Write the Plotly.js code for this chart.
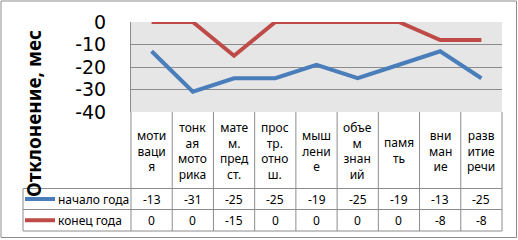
<!DOCTYPE html>
<html>
<head>
<meta charset="utf-8">
<script src="https://cdn.plot.ly/plotly-3.0.1.min.js"></script>
<style>
  html, body { margin: 0; padding: 0; background: #ffffff; }
  #chart { width: 518px; height: 240px; }
</style>
</head>
<body>
<div id="chart"></div>
<script>
// ---- data ----
var categories = ["мотивация", "тонкая моторика", "матем. предст.", "простр. отнош.", "мышление", "объем знаний", "память", "внимание", "развитие речи"];
var categoryLabels = ["моти<br>ваци<br>я", "тонк<br>ая<br>мото<br>рика", "мате<br>м.<br>пред<br>ст.", "прос<br>тр.<br>отно<br>ш.", "мыш<br>лени<br>е", "объе<br>м<br>знан<br>ий", "памя<br>ть", "вни<br>ман<br>ие", "разв<br>итие<br>речи"];
var seriesNames = ["начало года", "конец года"];
var startYear = [-13, -31, -25, -25, -19, -25, -19, -13, -25];
var endYear = [0, 0, -15, 0, 0, 0, 0, -8, -8];
var yTickVals = [-40, -30, -20, -10, 0];
var yTickText = ["-40", "-30", "-20", "-10", "0"];
var yTitle = "Отклонение, мес";

// ---- layout geometry (pixels) ----
var W = 518, H = 240;
var PL = 131, PR = 502, PT = 22, PB = 112;
var colors = ["#4a7ebb", "#be4b48"];
var gridColor = "#8c8c8c";
var FONT = "Noto Sans, Open Sans, sans-serif";

function px(x) { return (x - PL) / (PR - PL); }
function py(y) { return (PB - y) / (PB - PT); }

var catTop = PB, row1Top = 188.5, row2Top = 209.5, tableBottom = 231, legendLeft = 23;
var rowMid = [(row1Top + row2Top) / 2, (row2Top + tableBottom) / 2];
var n = categories.length;
var seriesValues = [startYear, endYear];

var traces = seriesValues.map(function (vals, s) {
  return {
    x: categories, y: vals, type: "scatter", mode: "lines", name: seriesNames[s],
    line: { color: colors[s], width: 4 }, hoverinfo: "skip"
  };
});

var shapes = [];
var annotations = [];

function line(x0, y0, x1, y1, color, width, xref) {
  shapes.push({ type: "line", xref: xref || "paper", yref: "paper", x0: x0, y0: y0, x1: x1, y1: y1,
    line: { color: color, width: width } });
}

// vertical column separators
for (var i = 0; i <= n; i++) {
  line(i / n, py(catTop), i / n, py(tableBottom), gridColor, 1);
}
// legend column left border
line(px(legendLeft), py(row1Top), px(legendLeft), py(tableBottom), gridColor, 1);
// horizontal table lines
[row1Top, row2Top, tableBottom].forEach(function (y) {
  line(px(legendLeft), py(y), 1, py(y), gridColor, 1);
});

// category labels
categories.forEach(function (c, i) {
  annotations.push({ xref: "x", yref: "paper", x: c, y: py((catTop + row1Top) / 2 + 0.5),
    text: categoryLabels[i], showarrow: false, xanchor: "center", yanchor: "middle",
    font: { family: FONT, size: 12, color: "#000" }, align: "center" });
});

// data rows + legend keys
seriesValues.forEach(function (vals, s) {
  vals.forEach(function (v, i) {
    annotations.push({ xref: "x", yref: "paper", x: categories[i], y: py(rowMid[s]),
      text: String(v), showarrow: false, xanchor: "center", yanchor: "middle",
      font: { family: FONT, size: 12, color: "#000" } });
  });
  line(px(25), py(rowMid[s]), px(55), py(rowMid[s]), colors[s], 4);
  annotations.push({ xref: "paper", yref: "paper", x: px(56), y: py(rowMid[s]),
    text: seriesNames[s], showarrow: false, xanchor: "left", yanchor: "middle",
    font: { family: FONT, size: 12, color: "#000" } });
});

// axis title
annotations.push({ xref: "paper", yref: "paper", x: px(34), y: py(114), text: "<b>" + yTitle + "</b>",
  textangle: -90, showarrow: false, xanchor: "center", yanchor: "middle",
  font: { family: FONT, size: 19, color: "#000" } });

// outer chart border
shapes.push({ type: "rect", xref: "paper", yref: "paper", x0: px(1), y0: py(1), x1: px(516.5), y1: py(237.5),
  line: { color: "#8c8c8c", width: 1 }, fillcolor: "rgba(0,0,0,0)", layer: "below" });

var layout = {
  width: W, height: H,
  margin: { l: PL, r: W - PR, t: PT, b: H - PB, pad: 0 },
  paper_bgcolor: "#ffffff",
  plot_bgcolor: "#e6e6e6",
  showlegend: false,
  xaxis: { type: "category", range: [-0.5, n - 0.5], showgrid: false, zeroline: false,
    showline: false, showticklabels: false, ticks: "", fixedrange: true },
  yaxis: { range: [-40, 0], tickvals: yTickVals, ticktext: yTickText, showgrid: true,
    gridcolor: gridColor, gridwidth: 1, zeroline: false, showline: true, linecolor: gridColor,
    linewidth: 1, ticks: "", ticklabelstandoff: 20,
    tickfont: { family: "DejaVu Sans, sans-serif", size: 19, color: "#000" }, fixedrange: true },
  shapes: shapes,
  annotations: annotations
};

Plotly.newPlot("chart", traces, layout, { staticPlot: true, displayModeBar: false });
</script>
</body>
</html>
